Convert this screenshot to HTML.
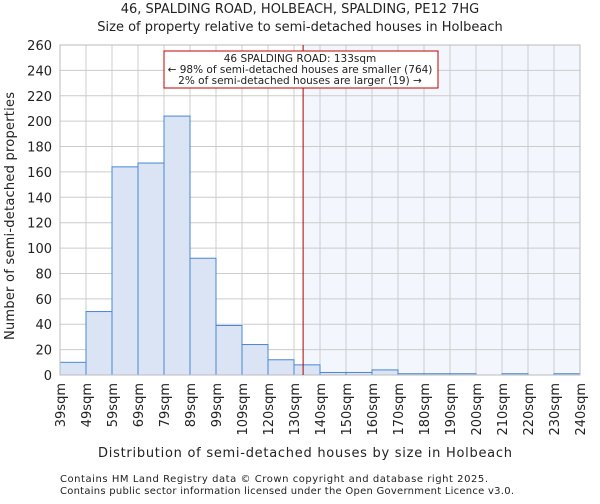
<!DOCTYPE html>
<html><head><meta charset="utf-8"><style>
body{margin:0;background:#fff;font-family:"DejaVu Sans","Liberation Sans",sans-serif;}
svg text{font-family:"DejaVu Sans","Liberation Sans",sans-serif;fill:#222;}
</style></head><body>
<svg id="c" width="600" height="500" viewBox="0 0 600 500">
<text x="300" y="13" font-size="13" text-anchor="middle">46, SPALDING ROAD, HOLBEACH, SPALDING, PE12 7HG</text>
<text x="300" y="31" font-size="13" text-anchor="middle">Size of property relative to semi-detached houses in Holbeach</text>
<g id="plot"></g>
<text x="98" y="457" font-size="13" textLength="414" lengthAdjust="spacing">Distribution of semi-detached houses by size in Holbeach</text>
<text transform="translate(14,340) rotate(-90)" font-size="13" textLength="248" lengthAdjust="spacing">Number of semi-detached properties</text>
<text x="60" y="482" font-size="10" fill="#444" textLength="428" lengthAdjust="spacing">Contains HM Land Registry data © Crown copyright and database right 2025.</text>
<text x="60" y="494" font-size="10" fill="#444" textLength="454" lengthAdjust="spacing">Contains public sector information licensed under the Open Government Licence v3.0.</text>
</svg>
<script>
const binLabels=["39sqm","49sqm","59sqm","69sqm","79sqm","89sqm","99sqm","109sqm","120sqm","130sqm","140sqm","150sqm","160sqm","170sqm","180sqm","190sqm","200sqm","210sqm","220sqm","230sqm","240sqm"];
const counts=[10,50,164,167,204,92,39,24,12,8,2,2,4,1,1,1,0,1,0,1];
const yTicks=[0,20,40,60,80,100,120,140,160,180,200,220,240,260];
const markerBin=9.35;
const NS="http://www.w3.org/2000/svg";
const g=document.getElementById('plot');
const L=60,R=580,T=45,B=375,yMax=260;
const bw=(R-L)/counts.length;
const x=i=>L+i*bw;
const y=v=>B-(v/yMax)*(B-T);
function mk(t,a){const e=document.createElementNS(NS,t);for(const k in a)e.setAttribute(k,a[k]);g.appendChild(e);return e;}
let e;
e=mk('rect',{x:x(markerBin),y:T,width:R-x(markerBin),height:B-T,fill:'#f3f6fd'});


yTicks.forEach(v=>{
 e=mk('line',{x1:L,x2:R,y1:y(v),y2:y(v),stroke:'#ccc','stroke-width':1});
 
 
 e=mk('text',{x:L-8,y:y(v)+5,'text-anchor':'end','font-size':13});
 e.textContent=v;
 
 
});
binLabels.forEach((s,i)=>{
 e=mk('line',{x1:x(i),x2:x(i),y1:T,y2:B,stroke:'#ccc','stroke-width':1});
 
 
 e=mk('text',{'font-size':13,'text-anchor':'end',transform:`translate(${x(i)+5},${B+8}) rotate(-90)`});
 e.textContent=s;
 
 
});
counts.forEach((v,i)=>{
 if(v<=0)return;
 e=mk('rect',{x:x(i),y:y(v),width:bw,height:B-y(v),fill:'#dae4f4',stroke:'#4a86d4','stroke-width':1});
 
 
});
e=mk('rect',{x:L,y:T,width:R-L,height:B-T,fill:'none',stroke:'#bbb'});


e=mk('line',{x1:x(markerBin),x2:x(markerBin),y1:T,y2:B,stroke:'#b00000','stroke-width':1});


e=mk('rect',{x:164,y:51,width:274,height:37,fill:'#fff',stroke:'#c00000','stroke-width':1});


[["46 SPALDING ROAD: 133sqm",62],["← 98% of semi-detached houses are smaller (764)",73],["2% of semi-detached houses are larger (19) →",84]].forEach(([t,yy])=>{
 e=mk('text',{x:300,y:yy,'text-anchor':'middle','font-size':10.5});
 e.textContent=t;
 
 
});
</script>
</body></html>
